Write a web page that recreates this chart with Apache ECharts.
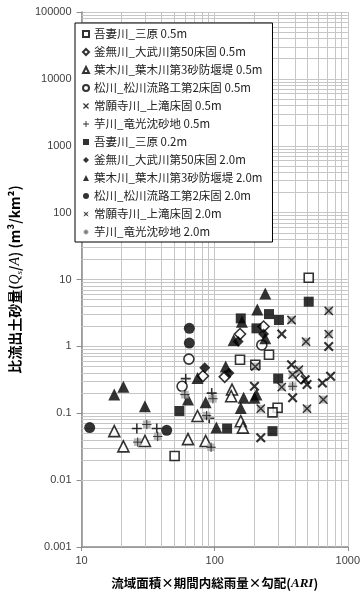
<!DOCTYPE html>
<html>
<head>
<meta charset="utf-8">
<script src="https://cdn.jsdelivr.net/npm/echarts@6/dist/echarts.min.js"></script>
<style>
  html, body { margin: 0; padding: 0; background: #fff; }
  #chart { width: 363px; height: 595px; }
</style>
</head>
<body>
<div id="chart"></div>
<script>
// Axis tick labels (log axes, one label per decade)
const xTickLabels = ['10', '100', '1000'];
const yTickLabels = ['0.001', '0.01', '0.1', '1', '10', '100', '1000', '10000', '100000'];

// Legend / series names
const seriesNames = [
  '吾妻川_三原 0.5m',
  '釜無川_大武川第50床固 0.5m',
  '葉木川_葉木川第3砂防堰堤 0.5m',
  '松川_松川流路工第2床固 0.5m',
  '常願寺川_上滝床固 0.5m',
  '芋川_竜光沈砂地 0.5m',
  '吾妻川_三原 0.2m',
  '釜無川_大武川第50床固 2.0m',
  '葉木川_葉木川第3砂防堰堤 2.0m',
  '松川_松川流路工第2床固 2.0m',
  '常願寺川_上滝床固 2.0m',
  '芋川_竜光沈砂地 2.0m'
];

// [ARI, Qs/A] pairs per site and grain size
const agatsuma05 = [[509, 10.6], [155, 0.63], [256, 0.75], [202, 0.53], [297, 0.121], [272, 0.103], [50, 0.023]];
const kamanashi05 = [[155, 1.53], [233, 1.98], [81.6, 0.36], [119, 0.35], [443, 0.337]];
const hagi05 = [[17.6, 0.054], [20.6, 0.032], [29.9, 0.0385], [74.3, 0.091], [135, 0.226], [133, 0.18], [157, 0.076], [163, 0.061], [63, 0.041], [85.5, 0.0385]];
const matsu05 = [[64, 0.645], [56.9, 0.253], [226, 1.05]];
const joganji05 = [[319, 1.53], [719, 1.0], [378, 0.53], [479, 0.318], [494, 0.268], [645, 0.284], [743, 0.356], [199, 0.253], [385, 0.17], [222, 0.043]];
const imo05 = [[26, 0.059], [36.7, 0.059], [60.6, 0.329], [91, 0.084], [95, 0.2]];
const agatsuma02 = [[509, 4.66], [256, 3.04], [304, 2.48], [157, 2.62], [206, 1.86], [300, 0.33], [54.3, 0.108], [124, 0.059], [272, 0.054]];
const kamanashi20 = [[150, 1.18], [233, 1.53], [84.2, 0.479], [128, 0.40]];
const hagi20 = [[17.6, 0.19], [20.6, 0.248], [29.9, 0.127], [63, 0.16], [74.3, 0.337], [121, 0.50], [139, 1.25], [160, 2.34], [209, 3.57], [240, 6.17], [240, 1.32], [165, 0.17], [157, 0.12], [206, 0.19], [199, 0.17], [103, 0.061], [85.5, 0.146]];
const matsu20 = [[11.5, 0.061], [43.6, 0.0555], [64.5, 1.86], [64.5, 1.12]];
const joganji20 = [[719, 3.40], [378, 2.48], [719, 1.52], [486, 1.18], [202, 0.5], [429, 0.448], [385, 0.377], [319, 0.246], [655, 0.16], [222, 0.117], [494, 0.117]];
const imo20 = [[30.9, 0.068], [26.4, 0.037], [37.3, 0.045], [59.7, 0.19], [97, 0.165], [87, 0.092], [385, 0.253], [94, 0.031]];

const seriesData = [agatsuma05, kamanashi05, hagi05, matsu05, joganji05, imo05,
                    agatsuma02, kamanashi20, hagi20, matsu20, joganji20, imo20];

// Marker shapes
const crossPath = 'path://M0,1.5L1.5,0L5,3.5L8.5,0L10,1.5L6.5,5L10,8.5L8.5,10L5,6.5L1.5,10L0,8.5L3.5,5Z';
const plusPath = 'path://M4.2,0H5.8V4.2H10V5.8H5.8V10H4.2V5.8H0V4.2H4.2Z';
const svgIcon = (inner) => 'image://data:image/svg+xml;charset=utf-8,' + encodeURIComponent(
  "<svg xmlns='http://www.w3.org/2000/svg' width='40' height='40' viewBox='0 0 20 20'>" + inner + '</svg>');
const grayCross = svgIcon("<rect x='3' y='3' width='14' height='14' fill='#a8a8a8'/><path d='M2.5 2.5L17.5 17.5M17.5 2.5L2.5 17.5' stroke='#000' stroke-width='2.6'/>");
const grayPlus = svgIcon("<rect x='3' y='3' width='14' height='14' fill='#a8a8a8'/><path d='M10 1.5V18.5M1.5 10H18.5' stroke='#000' stroke-width='1.8'/>");

const openStyle = { color: '#fff', borderColor: '#000', borderWidth: 1.6 };
const solidStyle = { color: '#000', borderWidth: 0 };

const markerSpecs = [
  { symbol: 'rect', size: 9, style: openStyle },
  { symbol: 'diamond', size: 11, style: openStyle },
  { symbol: 'triangle', size: 11, style: openStyle },
  { symbol: 'circle', size: 10, style: openStyle },
  { symbol: crossPath, size: 10, style: solidStyle },
  { symbol: plusPath, size: 10, style: solidStyle },
  { symbol: 'rect', size: 10, style: solidStyle },
  { symbol: 'diamond', size: 11, style: solidStyle },
  { symbol: 'triangle', size: 12, style: solidStyle },
  { symbol: 'circle', size: 11, style: solidStyle },
  { symbol: grayCross, size: 11, style: solidStyle },
  { symbol: grayPlus, size: 11, style: solidStyle }
];

// Minor gridlines at 2..9 of every decade
const minorX = [];
for (let d = 10; d < 1000; d *= 10) for (let k = 2; k <= 9; k++) minorX.push({ xAxis: k * d });
const minorY = [];
for (let e = -3; e < 5; e++) for (let k = 2; k <= 9; k++) minorY.push({ yAxis: +(k * Math.pow(10, e)).toPrecision(3) });

const gridColor = '#c6c6c6';
const axisColor = '#8c8c8c';
const labelFont = { fontFamily: 'Liberation Sans, Arial, sans-serif', fontSize: 11, color: '#404040' };

const series = seriesData.map((data, i) => ({
  name: seriesNames[i],
  type: 'scatter',
  data: data,
  symbol: markerSpecs[i].symbol,
  symbolSize: markerSpecs[i].size,
  itemStyle: markerSpecs[i].style,
  z: 3,
  emphasis: { disabled: true }
}));

// Helper series carrying the minor gridlines
series.unshift({
  name: 'minor-grid',
  type: 'line',
  data: [],
  silent: true,
  z: 1,
  markLine: {
    silent: true,
    symbol: ['none', 'none'],
    label: { show: false },
    animation: false,
    z: 1,
    lineStyle: { color: gridColor, width: 1, type: 'solid' },
    emphasis: { disabled: true },
    data: minorX.concat(minorY)
  }
});

const chart = echarts.init(document.getElementById('chart'), null, { renderer: 'canvas' });
chart.setOption({
  animation: false,
  backgroundColor: '#fff',
  grid: { left: 64, right: 5, top: 12, bottom: 46, containLabel: false },
  legend: {
    data: seriesNames,
    orient: 'vertical',
    left: 75,
    top: 23,
    padding: [4, 10, 3, 7],
    itemGap: 4,
    itemWidth: 6,
    itemHeight: 6,
    backgroundColor: '#fff',
    borderColor: '#000',
    borderWidth: 1,
    borderRadius: 0,
    selectedMode: false,
    textStyle: { fontFamily: 'Noto Sans CJK JP', fontSize: 11.5, color: '#222', lineHeight: 14 }
  },
  xAxis: {
    type: 'log',
    logBase: 10,
    min: 10,
    max: 1000,
    splitNumber: 2,
    name: '{b|流域面積×期間内総雨量×勾配}{b|(}{i|ARI}{b|)}',
    nameLocation: 'middle',
    nameGap: 30,
    nameTextStyle: {
      rich: {
        b: { fontFamily: 'Noto Sans CJK JP', fontWeight: 'bold', fontSize: 12.5, color: '#000' },
        i: { fontFamily: 'Liberation Serif', fontStyle: 'italic', fontWeight: 'bold', fontSize: 13, color: '#000' }
      }
    },
    axisLine: { show: true, lineStyle: { color: axisColor, width: 1.5 } },
    axisTick: { show: true, length: 4, lineStyle: { color: axisColor } },
    axisLabel: {
      ...labelFont,
      margin: 8,
      formatter: (v) => xTickLabels[Math.round(Math.log10(v)) - 1] ?? ''
    },
    splitLine: { show: true, lineStyle: { color: gridColor, width: 1 } },
    minorTick: { show: false },
    minorSplitLine: { show: false }
  },
  yAxis: {
    type: 'log',
    logBase: 10,
    min: 0.001,
    max: 100000,
    splitNumber: 8,
    name: '{b|比流出土砂量(}{i|Q}{s|s}{b|/}{i|A}{b|) (m³/km²)}',
    nameLocation: 'middle',
    nameGap: 35,
    nameTextStyle: {
      rich: {
        b: { fontFamily: 'Noto Sans CJK JP', fontWeight: 'bold', fontSize: 14, color: '#000', lineHeight: 18 },
        i: { fontFamily: 'Liberation Serif', fontStyle: 'italic', fontSize: 14, color: '#000', lineHeight: 18 },
        s: { fontFamily: 'Liberation Serif', fontStyle: 'italic', fontSize: 9, color: '#000', lineHeight: 18, verticalAlign: 'bottom' }
      }
    },
    axisLine: { show: true, lineStyle: { color: axisColor, width: 1.5 } },
    axisTick: { show: true, length: 5, lineStyle: { color: axisColor } },
    axisLabel: {
      ...labelFont,
      margin: 10,
      formatter: (v) => yTickLabels[Math.round(Math.log10(v)) + 3] ?? ''
    },
    splitLine: { show: true, lineStyle: { color: gridColor, width: 1 } },
    minorTick: { show: false },
    minorSplitLine: { show: false }
  },
  series: series
});
</script>
</body>
</html>
